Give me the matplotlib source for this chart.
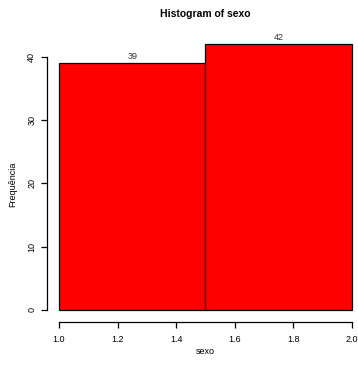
import matplotlib
matplotlib.use("Agg")
import matplotlib.pyplot as plt

# Histogram data
bin_edges = [1.0, 1.5, 2.0]
counts = [39, 42]
x_ticks = [1.0, 1.2, 1.4, 1.6, 1.8, 2.0]
y_ticks = [0, 10, 20, 30, 40]

plt.rcParams['font.family'] = ['Liberation Sans', 'DejaVu Sans']

W, H = 358, 367
fig = plt.figure(figsize=(W / 100, H / 100), dpi=100)
ax = fig.add_axes([0.1321, 0.1264, 0.8838, 0.7817])

widths = [bin_edges[i + 1] - bin_edges[i] for i in range(len(counts))]
ax.bar(bin_edges[:-1], counts, width=widths, align='edge',
       color='#ff0000', edgecolor='black', linewidth=0.9)

for left, w, c in zip(bin_edges[:-1], widths, counts):
    ax.text(left + w / 2, c + 0.3, str(c), ha='center', va='bottom',
            fontsize=6.5, color='#333333')

ymax = max(counts)
ax.set_xlim(0.96, 2.04)
ax.set_ylim(-0.04 * ymax, ymax * 1.04)

for s in ['top', 'right']:
    ax.spines[s].set_visible(False)
ax.spines['left'].set_bounds(y_ticks[0], y_ticks[-1])
ax.spines['bottom'].set_bounds(x_ticks[0], x_ticks[-1])
ax.spines['bottom'].set_position(('outward', 1))
for s in ['left', 'bottom']:
    ax.spines[s].set_linewidth(0.9)

ax.set_xticks(x_ticks)
ax.set_xticklabels([f"{t:.1f}" for t in x_ticks])
ax.set_yticks(y_ticks)
ax.set_yticklabels([str(t) for t in y_ticks], rotation=90, va='center')
ax.tick_params(axis='both', direction='out', length=4, width=0.9,
               labelsize=6.5)
ax.tick_params(axis='x', pad=5)
ax.tick_params(axis='y', pad=4)

fig.text(205 / W, 1 - 14 / H, 'Histogram of sexo', fontsize=7.5,
         fontweight='bold', ha='center', va='center')
fig.text(205 / W, 1 - 352 / H, 'sexo', fontsize=6.5,
         ha='center', va='center')
fig.text(13 / W, 1 - 184 / H, 'Frequência', fontsize=6.5, rotation=90,
         ha='center', va='center')

fig.savefig('out.png', dpi=100)
